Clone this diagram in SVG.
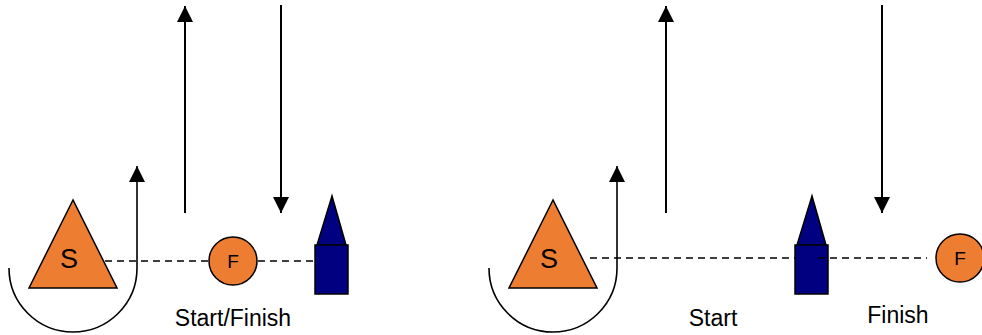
<svg xmlns="http://www.w3.org/2000/svg" width="982" height="335" viewBox="0 0 982 335">
<style>
.bg{fill:#fff}
.buoy{fill:#ED7D31;stroke:#000;stroke-width:1.5}
.boat{fill:#000080;stroke:#000;stroke-width:1.5}
.line{fill:none;stroke:#000;stroke-width:2}
.turn{fill:none;stroke:#000;stroke-width:1.6}
.dash{fill:none;stroke:#000;stroke-width:1.5;stroke-dasharray:7 5}
.lbl{font-family:"Liberation Sans",Arial,sans-serif;fill:#000;text-anchor:middle}
</style>
<defs>
<marker id="ahb" viewBox="0 0 16 16" refX="16" refY="8" markerWidth="16" markerHeight="16" markerUnits="userSpaceOnUse" orient="auto">
<path d="M0,0 L16,8 L0,16 Z" fill="#000"/>
</marker>
</defs>
<rect class="bg" width="982" height="335"/>
<g id="connectors">
<line class="dash" x1="105" y1="261" x2="210" y2="261"/>
<line class="dash" x1="258" y1="261" x2="315" y2="261"/>
<path class="turn" d="M9,268 A64,64 0 0 0 137,268 L137,166" marker-end="url(#ahb)"/>
<line class="line" x1="185" y1="213" x2="185" y2="6" marker-end="url(#ahb)"/>
<line class="line" x1="281" y1="5" x2="281" y2="213" marker-end="url(#ahb)"/>
<line class="dash" x1="590" y1="258" x2="795" y2="258"/>
<path class="turn" d="M489,268 A64,64 0 0 0 617,268 L617,166" marker-end="url(#ahb)"/>
<line class="line" x1="666" y1="213" x2="666" y2="6" marker-end="url(#ahb)"/>
<line class="line" x1="882" y1="5" x2="882" y2="213" marker-end="url(#ahb)"/>
</g>
<g id="start-left">
<polygon class="buoy" points="73,200 29,288 117,288"/>
<text class="lbl" x="69" y="268" font-size="27">S</text>
</g>
<g id="finish-left">
<circle class="buoy" cx="233" cy="261" r="24"/>
<text class="lbl" x="233" y="268" font-size="19">F</text>
</g>
<g id="boat-left">
<polygon class="boat" points="332,196 317,245 346,245"/>
<rect class="boat" x="315" y="245" width="33" height="49"/>
</g>
<text class="lbl" x="233" y="326" font-size="23">Start/Finish</text>
<g id="start-right">
<polygon class="buoy" points="553,200 509,288 597,288"/>
<text class="lbl" x="549" y="268" font-size="27">S</text>
</g>
<g id="boat-right">
<polygon class="boat" points="812,196 797,245 826,245"/>
<rect class="boat" x="795" y="245" width="33" height="49"/>
</g>
<line class="dash" x1="818" y1="258" x2="927" y2="258"/>
<g id="finish-right">
<circle class="buoy" cx="960" cy="258" r="24"/>
<text class="lbl" x="960" y="265" font-size="19">F</text>
</g>
<text class="lbl" x="713" y="326" font-size="23">Start</text>
<text class="lbl" x="898" y="323" font-size="23">Finish</text>
</svg>
